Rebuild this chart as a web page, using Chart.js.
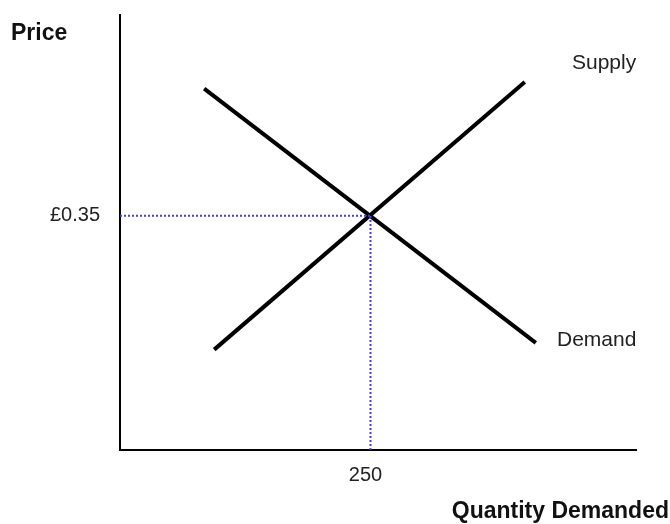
<!DOCTYPE html>
<html>
<head>
<meta charset="utf-8">
<script src="https://cdn.jsdelivr.net/npm/chart.js@4/dist/chart.umd.min.js"></script>
<style>
  html, body { margin: 0; padding: 0; background: #fff; }
  #wrap { width: 670px; height: 524px; }
</style>
</head>
<body>
<div id="wrap"><canvas id="chart" width="670" height="524"></canvas></div>
<script>
// supply / demand end points (quantity, price)
const supplyQty = [94, 404];
const supplyPrice = [0.15, 0.55];
const demandQty = [84, 415];
const demandPrice = [0.54, 0.16];

// equilibrium
const eqQty = 250;
const eqPrice = 0.35;
const eqQtyLabel = '250';
const eqPriceLabel = '£0.35';

const lineLabels = ['Supply', 'Demand'];
const axisTitles = ['Price', 'Quantity Demanded'];

function pts(xs, ys) {
    return xs.map((x, i) => ({ x: x, y: ys[i] }));
}

// draw the text labels next to the lines and axes
const labelPlugin = {
    id: 'labels',
    afterDraw(chart) {
        const ctx = chart.ctx;
        const xs = chart.scales.x;
        const ys = chart.scales.y;
        const area = chart.chartArea;
        ctx.save();
        ctx.textBaseline = 'middle';

        ctx.font = 'bold 23px "Liberation Sans", Arial, sans-serif';
        ctx.fillStyle = '#111';
        ctx.textAlign = 'left';
        ctx.fillText(axisTitles[0], 11, 34);
        ctx.textAlign = 'right';
        ctx.fillText(axisTitles[1], chart.width - 1, 512);

        ctx.font = '21px "Liberation Sans", Arial, sans-serif';
        ctx.fillStyle = '#222';
        ctx.textAlign = 'left';
        ctx.fillText(lineLabels[0], 572, 63);
        ctx.fillText(lineLabels[1], 557, 340);

        ctx.font = '20px "Liberation Sans", Arial, sans-serif';
        ctx.textAlign = 'right';
        ctx.fillText(eqPriceLabel, area.left - 20, ys.getPixelForValue(eqPrice));
        ctx.textAlign = 'center';
        ctx.fillText(eqQtyLabel, xs.getPixelForValue(eqQty) - 5, area.bottom + 25);
        ctx.restore();
    }
};

const blue = '#3d3dff';

new Chart(document.getElementById('chart'), {
    type: 'scatter',
    data: {
        datasets: [
            {
                label: 'priceGuide',
                data: pts([0, eqQty], [eqPrice, eqPrice]),
                showLine: true,
                borderColor: blue,
                borderWidth: 2,
                borderDash: [2, 2],
                pointRadius: 0
            },
            {
                label: 'qtyGuide',
                data: pts([eqQty, eqQty], [0, eqPrice]),
                showLine: true,
                borderColor: blue,
                borderWidth: 2,
                borderDash: [2, 2],
                pointRadius: 0
            },
            {
                label: lineLabels[0],
                data: pts(supplyQty, supplyPrice),
                showLine: true,
                borderColor: '#000',
                borderWidth: 4,
                pointRadius: 0
            },
            {
                label: lineLabels[1],
                data: pts(demandQty, demandPrice),
                showLine: true,
                borderColor: '#000',
                borderWidth: 4,
                pointRadius: 0
            }
        ]
    },
    options: {
        responsive: false,
        animation: false,
        layout: {
            padding: { left: 120, top: 15, right: 34, bottom: 74 }
        },
        plugins: {
            legend: { display: false },
            tooltip: { enabled: false }
        },
        scales: {
            x: {
                type: 'linear',
                min: 0,
                max: 515,
                grid: { display: false, drawTicks: false },
                ticks: { display: false },
                border: { display: true, color: '#000', width: 2 }
            },
            y: {
                type: 'linear',
                min: 0,
                max: 0.65,
                grid: { display: false, drawTicks: false },
                ticks: { display: false },
                border: { display: true, color: '#000', width: 2 }
            }
        }
    },
    plugins: [labelPlugin]
});
</script>
</body>
</html>
